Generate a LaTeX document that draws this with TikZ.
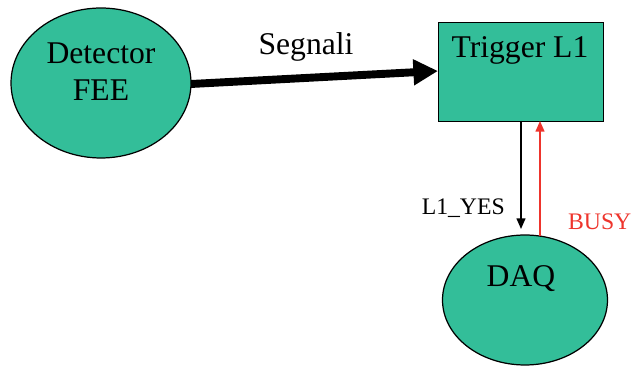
\documentclass[tikz,border=0pt]{standalone}
\usepackage{fontspec}
\setmainfont{Liberation Serif}
\usetikzlibrary{shapes.geometric,arrows.meta}
\definecolor{teal}{RGB}{51,190,153}
\definecolor{busyred}{RGB}{238,52,44}
\tikzset{
  blob/.style={ellipse, draw=black, line width=0.7pt, fill=teal, inner sep=0pt},
  unit/.style={rectangle, draw=black, line width=0.7pt, fill=teal, inner sep=0pt, anchor=north west},
  big/.style={font=\fontsize{18}{21}\selectfont, align=center},
  lbl/.style={font=\fontsize{13.5}{16}\selectfont},
}
\begin{document}
\begin{tikzpicture}[x=0.02cm,y=-0.02cm]
\useasboundingbox (0,0) rectangle (633,374);
% detector front-end
\node[blob, minimum width=3.6cm, minimum height=3.0cm] (fee) at (101,83) {};
\node[big] (feetxt) at (101,72) {Detector\\FEE};
% trigger box
\node[unit, minimum width=3.3cm, minimum height=1.98cm] (trg) at (438,22) {};
\node[big, anchor=north] (trgtxt) at (520,30) {Trigger L1};
% acquisition
\node[blob, minimum width=3.3cm, minimum height=2.6cm] (daq) at (525,300) {};
\node[big] (daqtxt) at (521,279) {DAQ};
% signal path
\coordinate (sstart) at (191,84);
\coordinate (send) at (438,71);
\draw[line width=4.5pt, -{Triangle[length=14pt,width=14pt]}] (sstart) -- (send);
\node[big] (seg) at (306,47) {Segnali};
% trigger accept and busy lines
\coordinate (yestop) at (521,121);
\coordinate (yesbot) at (521,229);
\draw[line width=0.9pt, -{Triangle[length=6pt,width=5pt]}] (yestop) -- (yesbot);
\coordinate (busybot) at (540,236);
\coordinate (busytop) at (540,121);
\draw[busyred, line width=0.9pt, -{Triangle[length=6pt,width=5pt]}] (busybot) -- (busytop);
\node[lbl, anchor=east] (yes) at (511,208) {L1\_YES};
\node[lbl, anchor=west, text=busyred, inner sep=1pt] (busy) at (566,222) {BUSY};
\end{tikzpicture}
\end{document}
